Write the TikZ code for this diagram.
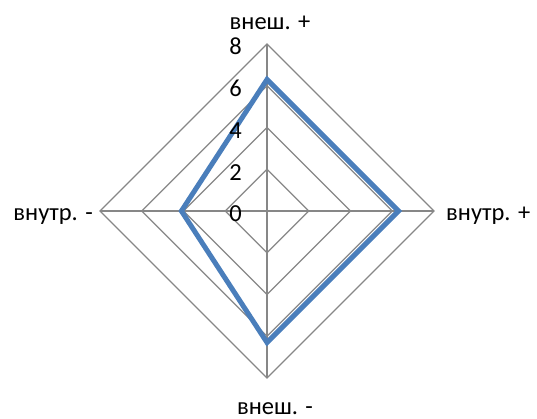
\documentclass[tikz,border=0pt]{standalone}
\usepackage{fontspec}
\setmainfont{Carlito}
\usetikzlibrary{calc}
\begin{document}
\begin{tikzpicture}[x=1pt,y=-1pt,
  gridline/.style={draw=black!47, line width=1.1pt},
  series/.style={draw=seriesblue, line width=5pt, line join=miter},
  lbl/.style={font=\fontsize{24.5}{28}\selectfont, inner sep=0pt},
  tick/.style={font=\fontsize{24.5}{28}\selectfont, inner sep=0pt, anchor=base east}]
\definecolor{seriesblue}{HTML}{4A7EBB}
\useasboundingbox (0,0) rectangle (537,419);
\coordinate (c) at (267,211);
\def\R{167}
% grid diamonds
\foreach \k in {1,2,3,4}{
  \draw[gridline] ($(c)+(0,-\k*\R/4)$) -- ($(c)+(\k*\R/4,0)$) -- ($(c)+(0,\k*\R/4)$) -- ($(c)+(-\k*\R/4,0)$) -- cycle;
}
\coordinate (top) at ($(c)+(0,-\R)$);
\coordinate (right) at ($(c)+(\R,0)$);
\coordinate (bottom) at ($(c)+(0,\R)$);
\coordinate (left) at ($(c)+(-\R,0)$);
\draw[gridline] (c) -- (top);
\draw[gridline] (c) -- (right);
\draw[gridline] (c) -- (bottom);
\draw[gridline] (c) -- (left);
% series
\coordinate (p1) at ($(c)+(0,-6.3*\R/8)$);
\coordinate (p2) at ($(c)+(6.3*\R/8,0)$);
\coordinate (p3) at ($(c)+(0,6.3*\R/8)$);
\coordinate (p4) at ($(c)+(-4.1*\R/8,0)$);
\draw[series] (p1) -- (p2) -- (p3) -- (p4) -- cycle;
% tick labels
\foreach \v in {0,2,4,6,8}{
  \node[tick] (t\v) at ($(c)+(-25,-\v*\R/8+11)$) {\v};
}
% axis labels
\node[lbl, anchor=base] (ltop) at (270,30) {внеш. +};
\node[lbl, anchor=base west] (lright) at (446,220.5) {внутр. +};
\node[lbl, anchor=base] (lbottom) at (275,414) {внеш. -};
\node[lbl, anchor=base east] (lleft) at (93,220.5) {внутр. -};
\end{tikzpicture}
\end{document}
